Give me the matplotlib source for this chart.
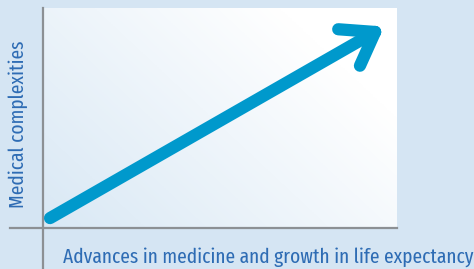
import numpy as np
import matplotlib.pyplot as plt
from matplotlib.lines import Line2D

# trend: medical complexity grows with advances in medicine
trend_x = [0, 1]
trend_y = [0, 1]
x_label = "Advances in medicine and growth in life expectancy"
y_label = "Medical complexities"

bg = "#d5e5f3"
blue = "#0099cc"
text_col = "#2e6cb4"
axis_col = "#8c9094"
fam = ["Fira Sans Extra Condensed", "DejaVu Sans"]

W, H = 474, 269
fig = plt.figure(figsize=(W / 100, H / 100), dpi=100, facecolor=bg)

# plot area in pixels: left 44, right 397, top 8, bottom 228
ax = fig.add_axes([44 / W, (H - 228) / H, 353 / W, 220 / H])
ax.set_xlim(-0.0185, 1.0673)
ax.set_ylim(-0.0532, 1.1288)
ax.axis("off")

# diagonal gradient, blue bottom-left to white top-right
gx, gy = np.meshgrid(np.linspace(0, 1, 200), np.linspace(0, 1, 200))
g = np.clip(gx * 0.75 + gy * 0.5, 0, 1)
c0 = np.array([0.85, 0.91, 0.96])
c1 = np.array([1.0, 1.0, 1.0])
img = c0[None, None, :] * (1 - g[..., None]) + c1[None, None, :] * g[..., None]
ax.imshow(img, extent=[*ax.get_xlim(), *ax.get_ylim()], origin="lower",
          aspect="auto", zorder=0)

lw = 8.8
ax.plot(trend_x, trend_y, color=blue, lw=lw, solid_capstyle="round", zorder=3)

# chevron arrow head, built in display space
fig.canvas.draw()
p0 = ax.transData.transform((trend_x[0], trend_y[0]))
p1 = ax.transData.transform((trend_x[-1], trend_y[-1]))
d = (p0 - p1) / np.linalg.norm(p0 - p1)
inv = ax.transData.inverted()
for ang in (36, -34):
    a = np.radians(ang)
    r = np.array([d[0] * np.cos(a) - d[1] * np.sin(a), d[0] * np.sin(a) + d[1] * np.cos(a)])
    end = inv.transform(p1 + r * 37)
    ax.plot([trend_x[-1], end[0]], [trend_y[-1], end[1]], color=blue, lw=lw,
            solid_capstyle="round", zorder=3)

# axis lines
fig.add_artist(Line2D([43 / W, 43 / W], [0, (H - 8) / H], color=axis_col, lw=1.6))
fig.add_artist(Line2D([10 / W, 397 / W], [(H - 228) / H] * 2, color=axis_col, lw=1.6))

tx = fig.text(63 / W, (H - 263) / H, x_label, color=text_col, fontsize=18,
              family=fam, weight="normal", ha="left", va="baseline")
ty = fig.text(18 / W, (H - 124) / H, y_label, color=text_col, fontsize=18,
              family=fam, weight="normal", rotation=90, ha="center", va="center")

# fit the label sizes to the widths seen in the reference
r = fig.canvas.get_renderer()
for t, target, horiz in ((tx, 409, True), (ty, 167, False)):
    bb = t.get_window_extent(r)
    span = bb.width if horiz else bb.height
    t.set_fontsize(t.get_fontsize() * target / span)

fig.savefig("out.png", dpi=100, facecolor=bg)
